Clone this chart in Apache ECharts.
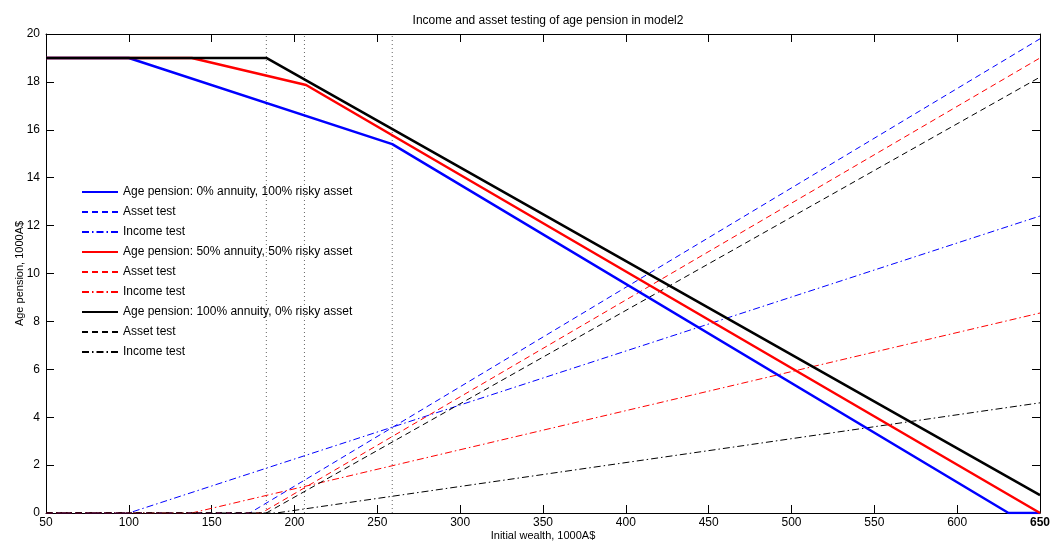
<!DOCTYPE html>
<html><head><meta charset="utf-8">
<script src="https://cdn.jsdelivr.net/npm/echarts@6/dist/echarts.min.js"></script>
<style>html,body{margin:0;padding:0;background:#fff}#c{width:1050px;height:543px}</style>
</head><body><div id="c"></div>
<script>
const chartTitle = 'Income and asset testing of age pension in model2';
const xName = 'Initial wealth, 1000A$';
const yName = 'Age pension, 1000A$';
const xMin = 50, xMax = 650, xStep = 50;
const yMin = 0, yMax = 20, yStep = 2;

const seriesNames = [
  'Age pension: 0% annuity, 100% risky asset', 'Asset test', 'Income test',
  'Age pension: 50% annuity, 50% risky asset', 'Asset test ', 'Income test ',
  'Age pension: 100% annuity, 0% risky asset', 'Asset test  ', 'Income test  '
];
const seriesColors = ['#0000ff','#0000ff','#0000ff','#ff0000','#ff0000','#ff0000','#000000','#000000','#000000'];
const seriesKinds = ['solid','dashed','dashdot','solid','dashed','dashdot','solid','dashed','dashdot'];

// [wealth, value] points at the kinks of each piecewise-linear curve
const pension0 = [[50,19],[100,19],[259,15.4],[631,0],[650,0]];
const asset0   = [[50,0],[173,0],[650,19.8]];
const income0  = [[50,0],[100,0],[650,12.4]];
const pension50 = [[50,19],[138,19],[207,17.87],[650,0]];
const asset50   = [[50,0],[180,0],[650,19.0]];
const income50  = [[50,0],[138,0],[650,8.35]];
const pension100 = [[50,19],[183,19],[650,0.75]];
const asset100   = [[50,0],[183,0],[650,18.2]];
const income100  = [[50,0],[189,0],[650,4.6]];
const seriesData = [pension0, asset0, income0, pension50, asset50, income50, pension100, asset100, income100];

const cutoffs = [183, 206, 259];

const font = 'Liberation Sans, Arial, Helvetica, sans-serif';
const dashStyles = { solid: 'solid', dashed: [6, 4], dashdot: [7, 3, 1.5, 3] };

const series = [];
cutoffs.forEach(c => {
  series.push({
    type: 'line', data: [[c, yMin], [c, yMax]], symbol: 'none', silent: true,
    lineStyle: { color: '#666', width: 1, type: [1, 3] }, z: 1, animation: false
  });
});
seriesNames.forEach((n, i) => {
  const solid = seriesKinds[i] === 'solid';
  series.push({
    name: n, type: 'line', data: seriesData[i], symbol: 'none', animation: false,
    lineStyle: { color: seriesColors[i], width: solid ? 2.5 : 1, type: dashStyles[seriesKinds[i]] },
    itemStyle: { color: seriesColors[i] },
    z: solid ? 5 : 3
  });
});

const chart = echarts.init(document.getElementById('c'), null, { renderer: 'canvas' });
const axisCommon = {
  type: 'value', splitLine: { show: false },
  axisLine: { show: true, onZero: false, lineStyle: { color: '#000', width: 1 } },
  axisTick: { show: true, inside: true, length: 8, lineStyle: { color: '#000' } }
};
chart.setOption({
  backgroundColor: '#fff',
  animation: false,
  title: { text: chartTitle, left: 543, textAlign: 'center', top: 10,
    textStyle: { fontFamily: font, fontSize: 12, fontWeight: 'normal', color: '#000' } },
  grid: { left: 46, right: 10, top: 34, bottom: 30, containLabel: false, outerBoundsMode: 'none' },
  legend: {
    data: seriesNames, orient: 'vertical', left: 76, top: 181,
    itemWidth: 36, itemHeight: 14, itemGap: 8,
    itemStyle: { opacity: 0 },
    textStyle: { fontFamily: font, fontSize: 12, color: '#000' },
    backgroundColor: 'transparent', selectedMode: false
  },
  xAxis: [
    Object.assign({}, axisCommon, {
      min: xMin, max: xMax, interval: xStep, position: 'bottom',
      name: xName, nameLocation: 'middle', nameGap: 17, nameMoveOverlap: false,
      nameTextStyle: { fontFamily: font, fontSize: 11, color: '#000' },
      axisLabel: { fontFamily: font, fontSize: 12, color: '#000', margin: 4,
        formatter: v => v === xMax ? '{b|' + v + '}' : String(v),
        rich: { b: { fontWeight: 'bold', fontFamily: font, fontSize: 12, color: '#000' } } }
    }),
    Object.assign({}, axisCommon, {
      min: xMin, max: xMax, interval: xStep, position: 'top', axisLabel: { show: false }
    })
  ],
  yAxis: [
    Object.assign({}, axisCommon, {
      min: yMin, max: yMax, interval: yStep, position: 'left',
      name: yName, nameLocation: 'middle', nameGap: 21, nameRotate: 90, nameMoveOverlap: false,
      nameTextStyle: { fontFamily: font, fontSize: 11, color: '#000' },
      axisLabel: { fontFamily: font, fontSize: 12, color: '#000', margin: 6 }
    }),
    Object.assign({}, axisCommon, {
      min: yMin, max: yMax, interval: yStep, position: 'right', axisLabel: { show: false }
    })
  ],
  series: series
});
</script></body></html>
